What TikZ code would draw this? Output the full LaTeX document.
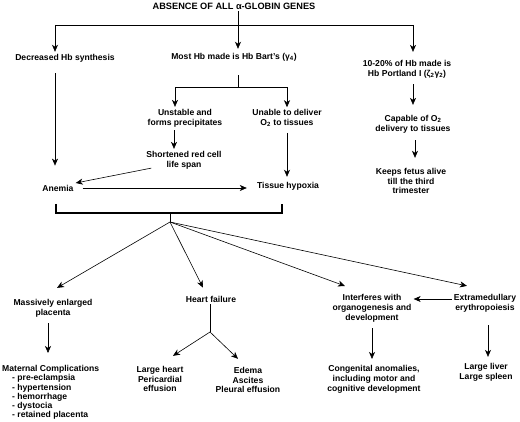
\documentclass[tikz,border=0pt]{standalone}
\usepackage{fontspec}
\setmainfont{Liberation Sans}
\usetikzlibrary{arrows.meta}

\begin{document}
\begin{tikzpicture}[x=1pt,y=-1pt,>={Stealth[length=7pt,width=6pt,inset=2pt]}]
	\tikzset{block/.style={align=center, inner sep=2pt, font=\bfseries\fontsize{8.6}{9.8}\selectfont},
		link/.style={line width=.6pt},
		bracket/.style={line width=1.6pt},
	}
	\useasboundingbox (0,0) rectangle (520,422);
	
	\node [block, font=\bfseries\fontsize{9.2}{11}\selectfont] (title) at (234,6) {ABSENCE OF ALL α-GLOBIN GENES};
	\node [block] (dec) at (65,58) {Decreased Hb synthesis};
	\node [block] (bart) at (234,57) {Most Hb made is Hb Bart's (γ\textsubscript{4})};
	\node [block] (port) at (407,69) {10-20\% of Hb made is\\Hb Portland I (ζ\textsubscript{2}γ\textsubscript{2})};
	\node [block] (unst) at (185,118) {Unstable and\\forms precipitates};
	\node [block] (unab) at (287,118) {Unable to deliver\\O\textsubscript{2} to tissues};
	\node [block] (capo) at (413,124) {Capable of O\textsubscript{2}\\delivery to tissues};
	\node [block] (keep) at (411,181) {Keeps fetus alive\\till the third\\trimester};
	\node [block] (short) at (184,160) {Shortened red cell\\life span};
	\node [block] (anem) at (58,188) {Anemia};
	\node [block] (hypo) at (288,186) {Tissue hypoxia};
	\node [block] (mass) at (53,308) {Massively enlarged\\placenta};
	\node [block] (heart) at (211,299) {Heart failure};
	\node [block] (inter) at (372,308) {Interferes with\\organogenesis and\\development};
	\node [block] (extra) at (485,303) {Extramedullary\\erythropoiesis};
	\node [block, align=left, anchor=north west, font=\bfseries\fontsize{8.6}{9.3}\selectfont] (mat) at (0,363) {Maternal Complications\\\hspace*{10pt}- pre-eclampsia\\\hspace*{10pt}- hypertension\\\hspace*{10pt}- hemorrhage\\\hspace*{10pt}- dystocia\\\hspace*{10pt}- retained placenta};
	\node [block] (lh) at (160,379) {Large heart\\Pericardial\\effusion};
	\node [block] (ed) at (248,380) {Edema\\Ascites\\Pleural effusion};
	\node [block] (cong) at (374,379) {Congenital anomalies,\\including motor and\\cognitive development};
	\node [block] (liver) at (486,372) {Large liver\\Large spleen};
	
	\coordinate (busL) at (55,25);
	\coordinate (busR) at (413,25);
	\coordinate (split) at (238,87);
	\coordinate (brL) at (56,213);
	\coordinate (brR) at (282,213);
	\coordinate (fan) at (170,222);
	\coordinate (hsplit) at (210,332);
	
	\draw [link,->,shorten >=2pt] ([xshift=4pt]title.south) -- ([xshift=4pt]bart.north);
	\draw [link] (busL) -- (busR);
	\draw [link,->] (busL) -- (busL |- dec.north);
	\draw [link,->,shorten >=6pt] (busR) -- (busR |- port.north);
	\draw [link,shorten <=12pt] ([xshift=4pt]bart.south) -- (split);
	\draw [link,->] (split) -| ([xshift=-10pt]unst.north);
	\draw [link,->] (split) -| (unab.north);
	\draw [link,->,shorten <=4pt,shorten >=8pt] (port.south -| capo) -- (capo.north);
	\draw [link,->,shorten <=5pt,shorten >=8pt] ([xshift=2pt]capo.south) -- ([xshift=2pt]capo.south |- keep.north);
	\draw [link,->,shorten <=9pt,shorten >=17pt] (busL |- dec.south) -- (busL |- anem.north);
	\draw [link,->,shorten <=1pt] ([xshift=-11pt]unst.south) -- ([xshift=-11pt]unst.south |- short.north);
	\draw [link,->,shorten <=4pt,shorten >=3pt] (unab.south) -- (unab.south |- hypo.north);
	\draw [link,->] ([shift={(7pt,3pt)}]short.south west) -- ([yshift=5pt]anem.east);
	\draw [link,->,shorten <=7pt,shorten >=8pt] (anem.east) -- (anem.east -| hypo.west);
	
	\draw [bracket] ([yshift=9pt]brL) -- (brL) -- (brR) -- ([yshift=9pt]brR);
	\draw [link] (brL -| fan) -- (fan);
	\draw [link,->] (fan) -- ([shift={(4pt,9pt)}]mass.north);
	\draw [link,->] (fan) -- ([shift={(-8pt,6pt)}]heart.north);
	\draw [link,->] (fan) -- ([shift={(-27pt,6pt)}]inter.north);
	\draw [link,->] (fan) -- ([shift={(-18pt,6pt)}]extra.north);
	
	\draw [link,->] ([yshift=4pt]extra.west) -- ([yshift=4pt]extra.west -| inter.east);
	\draw [link,->,shorten <=4pt,shorten >=10pt] ([xshift=-5pt]mass.south) -- ([xshift=-5pt]mass.south |- mat.north);
	\draw [link] ([xshift=-1pt]heart.south) -- (hsplit);
	\draw [link,->] (hsplit) -- ([shift={(13pt,8pt)}]lh.north);
	\draw [link,->] (hsplit) -- ([shift={(-10pt,6pt)}]ed.north);
	\draw [link,->,shorten <=4pt,shorten >=4pt] (inter.south) -- (inter.south |- cong.north);
	\draw [link,->,shorten <=11pt,shorten >=4pt] ([xshift=3pt]extra.south) -- ([xshift=3pt]extra.south |- liver.north);
\end{tikzpicture}
\end{document}
